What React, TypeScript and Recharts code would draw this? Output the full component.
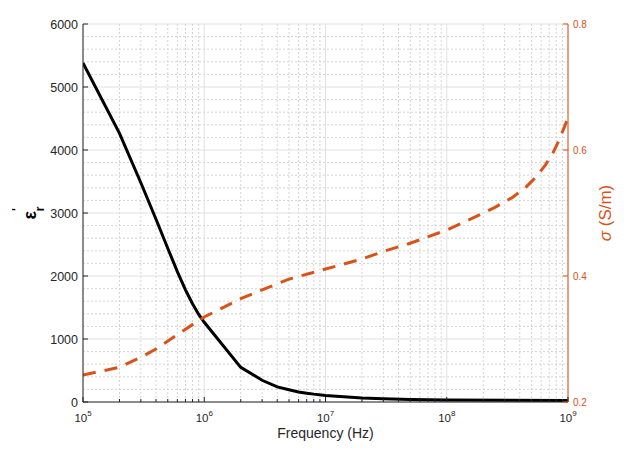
import { LineChart, Line, XAxis, YAxis, CartesianGrid } from 'recharts'

// permittivity (black, left axis)
const epsFreq = [1e5, 2e5, 3e5, 4e5, 5e5, 6e5, 7e5, 8e5, 9e5, 1e6, 2e6, 3e6, 4e6, 5e6, 6e6, 7e6, 8e6, 1e7, 2e7, 3e7, 5e7, 1e8, 1e9]
const epsVals = [5380, 4265, 3480, 2900, 2440, 2070, 1780, 1560, 1390, 1265, 550, 345, 240, 195, 160, 140, 125, 105, 65, 50, 40, 33, 25]

// conductivity (orange dashed, right axis)
const sigmaFreq = [1e5, 2e5, 3e5, 4e5, 6e5, 1e6, 1.4e6, 2e6, 3e6, 5e6, 1e7, 2e7, 3e7, 5e7, 1e8, 1.6e8, 2.5e8, 3.5e8, 4.5e8, 5.5e8, 6.5e8, 7.5e8, 8.5e8, 1e9]
const sigmaVals = [0.243, 0.255, 0.271, 0.284, 0.307, 0.335, 0.349, 0.364, 0.378, 0.395, 0.411, 0.427, 0.439, 0.452, 0.473, 0.491, 0.509, 0.525, 0.541, 0.558, 0.576, 0.595, 0.617, 0.651]

const decades = [1e5, 1e6, 1e7, 1e8, 1e9]
const minorMult = [2, 3, 4, 5, 6, 7, 8, 9]
const epsTicks = [0, 1000, 2000, 3000, 4000, 5000, 6000]
const sigmaTicks = [0.2, 0.4, 0.6, 0.8]

const minorX = decades.slice(0, -1).flatMap(d => minorMult.map(m => m * d))
const allX = [...decades, ...minorX].sort((a, b) => a - b)
const minorY = Array.from({ length: 31 }, (_, i) => i * 200).filter(v => v % 1000 !== 0)

const epsData = epsFreq.map((f, i) => ({ f, eps: epsVals[i] }))
const sigmaData = sigmaFreq.map((f, i) => ({ f, sigma: sigmaVals[i] }))

const DARK = '#262626'
const ORANGE = '#D95319'
const FONT = 'Liberation Sans, Arial, Helvetica, sans-serif'

const isDecade = (v: number) => Math.abs(Math.log10(v) - Math.round(Math.log10(v))) < 1e-9

function BottomTick({ x, y, payload }: any) {
    const v = payload.value
    const major = isDecade(v)
    return (
        <g>
            <line x1={x} x2={x} y1={y} y2={y - (major ? 5 : 3)} stroke={DARK} />
            {major && (
                <text x={x} y={y + 20} textAnchor="middle" fontSize={11.5} fill={DARK} fontFamily={FONT}>
                    10<tspan dy={-6} fontSize={8}>{Math.round(Math.log10(v))}</tspan>
                </text>
            )}
        </g>
    )
}

function TopTick({ x, y, payload }: any) {
    const major = isDecade(payload.value)
    return <line x1={x} x2={x} y1={y} y2={y + (major ? 5 : 3)} stroke={DARK} />
}

function LeftTick({ x, y, payload }: any) {
    return (
        <g>
            <line x1={x} x2={x + 5} y1={y} y2={y} stroke={DARK} />
            <text x={x - 5} y={y + 4.5} textAnchor="end" fontSize={12.5} fill={DARK} fontFamily={FONT}>
                {payload.value}
            </text>
        </g>
    )
}

function RightTick({ x, y, payload }: any) {
    return (
        <g>
            <line x1={x} x2={x - 5} y1={y} y2={y} stroke={ORANGE} />
            <text x={x + 5} y={y + 3.5} textAnchor="start" fontSize={10} fill={ORANGE} fontFamily={FONT}>
                {payload.value.toFixed(1)}
            </text>
        </g>
    )
}

export default function App() {
    return (
        <div style={{ position: 'absolute', left: 0, top: 0, width: 629, height: 450, background: '#fff' }}>
            <LineChart width={629} height={450} margin={{ top: 24, right: 0, bottom: 18, left: 23 }}>
                <CartesianGrid yAxisId="left" horizontalValues={minorY} verticalValues={minorX}
                    stroke="#d4d4d4" strokeDasharray="2 2" />
                <CartesianGrid yAxisId="left" horizontalValues={epsTicks} verticalValues={decades}
                    stroke="#e0e0e0" />
                <XAxis dataKey="f" type="number" scale="log" domain={[1e5, 1e9]} ticks={allX}
                    allowDataOverflow interval={0} height={30} tickSize={0} tickMargin={0}
                    tickLine={false} axisLine={{ stroke: DARK }} tick={<BottomTick />}
                    label={{
                        content: ({ viewBox }: any) => (
                            <text x={viewBox.x + viewBox.width / 2} y={viewBox.y + 36} textAnchor="middle"
                                fontSize={14} fill={DARK} fontFamily={FONT}>Frequency (Hz)</text>
                        )
                    }} />
                <XAxis xAxisId="top" orientation="top" dataKey="f" type="number" scale="log" domain={[1e5, 1e9]}
                    ticks={allX} allowDataOverflow interval={0} height={0} tickSize={0} tickMargin={0}
                    tickLine={false} axisLine={{ stroke: DARK }} tick={<TopTick />}
                    label={{
                        content: ({ viewBox }: any) => (
                            <text x={viewBox.x + viewBox.width / 2} y={viewBox.y - 7} textAnchor="middle"
                                fontSize={16} fill={DARK} fontFamily={FONT}>Electric dispersion</text>
                        )
                    }} />
                <YAxis yAxisId="left" type="number" domain={[0, 6000]} ticks={epsTicks} interval={0} width={60}
                    tickSize={0} tickMargin={0} tickLine={false} axisLine={{ stroke: DARK }} tick={<LeftTick />}
                    label={{
                        content: ({ viewBox }: any) => (
                            <text transform={`translate(${viewBox.x + 13},${viewBox.y + viewBox.height / 2}) rotate(-90)`}
                                textAnchor="middle" fontSize={18} fontWeight="bold" fill="#000" fontFamily={FONT}>
                                ε<tspan dy={-15} fontSize={12}>'</tspan><tspan dx={-3} dy={23} fontSize={12}>r</tspan>
                            </text>
                        )
                    }} />
                <YAxis yAxisId="right" orientation="right" type="number" domain={[0.2, 0.8]} ticks={sigmaTicks}
                    interval={0} width={61} tickSize={0} tickMargin={0} tickLine={false}
                    axisLine={{ stroke: ORANGE }} tick={<RightTick />}
                    label={{
                        content: ({ viewBox }: any) => (
                            <text transform={`translate(${viewBox.x + 43},${viewBox.y + viewBox.height / 2}) rotate(-90)`}
                                textAnchor="middle" fontSize={17} fill={ORANGE} fontFamily={FONT}>
                                <tspan fontStyle="italic">σ</tspan> (S/m)
                            </text>
                        )
                    }} />
                <Line yAxisId="left" data={epsData} dataKey="eps" type="linear" stroke="#000" strokeWidth={3}
                    dot={false} activeDot={false} isAnimationActive={false} />
                <Line yAxisId="right" data={sigmaData} dataKey="sigma" type="linear" stroke={ORANGE} strokeWidth={3}
                    strokeDasharray="13 9" dot={false} activeDot={false} isAnimationActive={false} />
            </LineChart>
        </div>
    )
}
